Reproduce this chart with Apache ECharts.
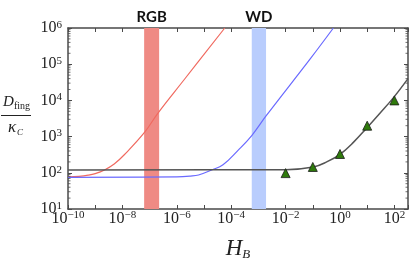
<!DOCTYPE html>
<html><head><meta charset="utf-8">
<script src="https://cdn.jsdelivr.net/npm/echarts@6/dist/echarts.min.js"></script>
<style>html,body{margin:0;padding:0;background:#fff}#c{width:415px;height:266px}</style>
</head><body><div id="c"></div>
<script>
// ---- data (H_B, D_fing/kappa_C) ----
const redH   = [1e-10, 2.5e-10, 5.5e-10, 1e-9, 2.2e-9, 5e-9, 1.2e-8, 6.6e-8, 2.0e-7, 1.95e-6, 5.8e-5];
const redD   = [77, 80, 86, 95, 120, 175, 320, 1320, 4400, 39000, 1e6];
const blueH  = [1e-10, 1e-6, 3.2e-6, 6.3e-6, 1.93e-5, 5e-5, 1.78e-4, 5.7e-4, 1.91e-3, 7.9e-2, 0.571];
const blueD  = [75, 77, 81, 87, 120, 166, 417, 1070, 3720, 138000, 1e6];
const grayH  = [1e-10, 1e-2, 0.105, 0.324, 1, 3.1, 9.7, 29.9, 91, 316];
const grayD  = [120, 122, 145, 200, 324, 692, 1740, 4470, 11750, 40000];
const triH   = [0.01, 0.1, 1, 10, 100];
const triD   = [98, 145, 331, 2000, 10000];
const bandNames = ['RGB', 'WD'];
const bandLo = [6.3e-8, 5.7e-4];
const bandHi = [2.24e-7, 1.91e-3];
const bandColors = ['#ef8a84', '#b9cdfd'];
// tick labels (exponents of 10)
const xLabelExp = [-10, -8, -6, -4, -2, 0, 2];
const yLabelExp = [1, 2, 3, 4, 5, 6];
const minorFactors = [2, 3, 4, 5, 6, 7, 8, 9];

const L = Math.log10;
const xMin = -10, xMax = 2.5, yMin = 1, yMax = 6;
const pairs = (hs, ds) => hs.map((h, i) => [L(h), L(ds[i])]);

const minorTicks = [];
for (let e = yMin; e < yMax; e++) minorFactors.forEach(f => minorTicks.push([xMin, L(f * Math.pow(10, e))]));

const sup = e => '{b|10}{e|' + String(e).replace('-', '\u2212') + '}';
const rich = {
  b: {fontFamily: 'Liberation Serif', fontSize: 16, lineHeight: 17, color: '#222'},
  e: {fontFamily: 'Liberation Serif', fontSize: 11, lineHeight: 10, verticalAlign: 'top', color: '#222'}
};
const isInt = v => Math.abs(v - Math.round(v)) < 1e-6;
const axisLine = {show: true, onZero: false, lineStyle: {color: '#4a4a4a', width: 1.5}};
const tick = {show: true, inside: true, length: 4, lineStyle: {color: '#4a4a4a', width: 1}};

const option = {
  animation: false,
  grid: {left: 68, right: 7, top: 28, bottom: 53},
  xAxis: [{
    type: 'value', min: xMin, max: xMax, interval: 1,
    axisLine, axisTick: tick, splitLine: {show: false},
    axisLabel: {margin: 1, interval: 0, rich,
      formatter: v => (isInt(v) && xLabelExp.includes(Math.round(v))) ? sup(Math.round(v)) : ''},
    name: '{h|H}{s|B}', nameLocation: 'middle', nameGap: 27,
    nameTextStyle: {rich: {
      h: {fontFamily: 'Liberation Serif', fontStyle: 'italic', fontSize: 23, lineHeight: 25, color: '#222'},
      s: {fontFamily: 'Liberation Serif', fontStyle: 'italic', fontSize: 13, lineHeight: 13, verticalAlign: 'bottom', color: '#222'}
    }}
  }, {
    type: 'value', position: 'top', min: xMin, max: xMax, interval: 1,
    axisLine, axisTick: tick, axisLabel: {show: false}, splitLine: {show: false}
  }],
  yAxis: [{
    type: 'value', min: yMin, max: yMax, interval: 1,
    axisLine, axisTick: tick, splitLine: {show: false},
    axisLabel: {margin: 6, rich,
      formatter: v => (isInt(v) && yLabelExp.includes(Math.round(v))) ? sup(Math.round(v)) : ''}
  }, {
    type: 'value', position: 'right', min: yMin, max: yMax, interval: 1,
    axisLine, axisTick: tick, axisLabel: {show: false}, splitLine: {show: false}
  }],
  graphic: [
    {type: 'text', left: 3, top: 95, style: {text: 'D', font: 'italic 15px "Liberation Serif"', fill: '#222'}},
    {type: 'text', left: 14, top: 101, style: {text: 'fing', font: '10px "Liberation Serif"', fill: '#222'}},
    {type: 'line', shape: {x1: 1, y1: 115.5, x2: 31, y2: 115.5}, style: {stroke: '#222', lineWidth: 1}},
    {type: 'text', left: 8, top: 119, style: {text: '\u03ba', font: 'italic 17px "Liberation Serif"', fill: '#222'}},
    {type: 'text', left: 17, top: 128, style: {text: 'C', font: 'italic 9px "Liberation Serif"', fill: '#222'}}
  ],
  series: [
    {
      type: 'line', name: 'bands', data: [], silent: true,
      markArea: {
        silent: true,
        data: bandNames.map((n, i) => [
          {name: n, xAxis: L(bandLo[i]), itemStyle: {color: bandColors[i]}},
          {xAxis: L(bandHi[i])}
        ]),
        label: {show: true, position: 'top', distance: 3, color: '#111', fontWeight: 'bold', fontFamily: 'Lato', fontSize: 15}
      }
    },
    {type: 'line', data: pairs(redH, redD), smooth: 0.4, showSymbol: false,
      lineStyle: {color: '#f06a60', width: 1.2}},
    {type: 'line', data: pairs(blueH, blueD), smooth: 0.4, showSymbol: false,
      lineStyle: {color: '#6a6aff', width: 1.2}},
    {type: 'line', data: pairs(grayH, grayD), smooth: 0.4, showSymbol: false,
      lineStyle: {color: '#555', width: 1.5}},
    {type: 'scatter', data: pairs(triH, triD), symbol: 'triangle', symbolSize: 9, z: 5,
      itemStyle: {color: '#2f7a0c', borderColor: '#1a1a1a', borderWidth: 0.8, opacity: 1}},
    {type: 'custom', data: minorTicks, clip: false, silent: true, z: 6,
      renderItem: (params, api) => {
        const pl = api.coord([xMin, api.value(1)]);
        const pr = api.coord([xMax, api.value(1)]);
        return {type: 'group', children: [
          {type: 'line', shape: {x1: pl[0], y1: pl[1], x2: pl[0] + 2.5, y2: pl[1]}, style: {stroke: '#4a4a4a', lineWidth: 0.8}},
          {type: 'line', shape: {x1: pr[0], y1: pr[1], x2: pr[0] - 2.5, y2: pr[1]}, style: {stroke: '#4a4a4a', lineWidth: 0.8}}
        ]};
      }}
  ]
};
echarts.init(document.getElementById('c')).setOption(option);
</script></body></html>
